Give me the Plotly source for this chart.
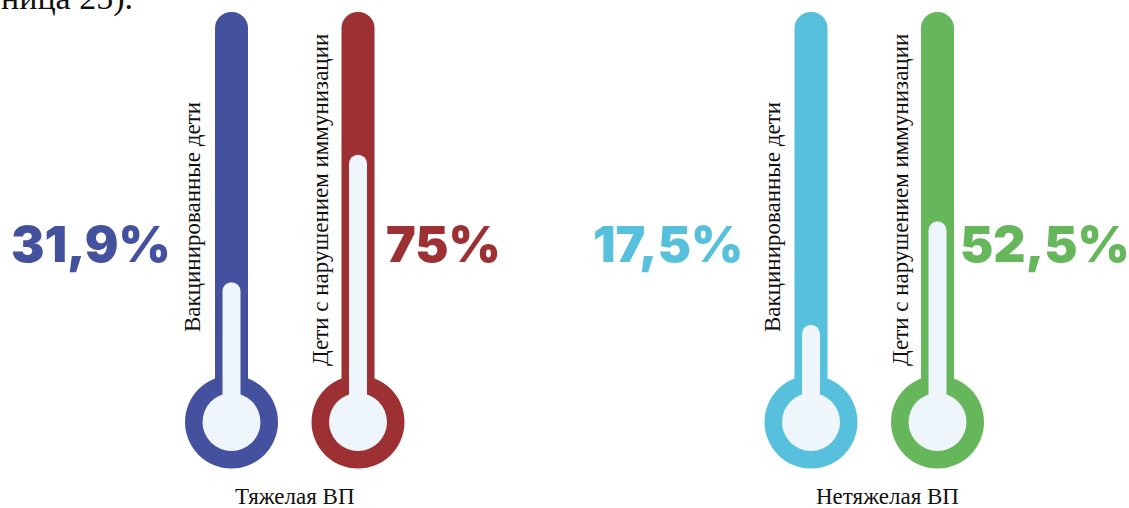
import plotly.graph_objects as go

# ---- data ----
groups = ["Тяжелая ВП", "Нетяжелая ВП"]
series_labels = ["Вакцинированные дети", "Дети с нарушением иммунизации"]
values = [31.9, 75.0, 17.5, 52.5]          # percent, order: blue, red, cyan, green
value_texts = ["31,9%", "75%", "17,5%", "52,5%"]
colors = ["#43519e", "#9d3033", "#57c1dd", "#66b65b"]
LIGHT = "#eef6fc"

# ---- layout constants (pixels) ----
W, H = 1129, 508
ZERO_PX = 376.5          # pixel row of 0 %
PX_PER_PCT = 2.957
TUBE_TOP_PX = 12
BULB_PX = 422
CX = [231.5, 358, 811, 937.5]
TEXT_CX = [91, 443.5, 668, 1045]
LABEL_X = [192, 321, 772, 901]
LABEL_Y = [217, 200, 217, 200]
GROUP_X = [295, 887]

def pct(py):
    return (ZERO_PX - py) / PX_PER_PCT

def paper_y(py):
    return 1 - py / H

tube_top = pct(TUBE_TOP_PX)
bulb = pct(BULB_PX)

fig = go.Figure()

# outer coloured tubes
for i, v in enumerate(values):
    fig.add_trace(go.Bar(x=[CX[i]], y=[tube_top - bulb], base=[bulb], width=[33],
                         marker=dict(color=colors[i], cornerradius=16.5, line=dict(width=0)),
                         hoverinfo="skip", showlegend=False))
# inner light columns (value)
for i, v in enumerate(values):
    fig.add_trace(go.Bar(x=[CX[i]], y=[v - bulb], base=[bulb], width=[18],
                         marker=dict(color=LIGHT, cornerradius=9, line=dict(width=0)),
                         hoverinfo="skip", showlegend=False))
# inner light bulbs
fig.add_trace(go.Scatter(x=CX, y=[bulb] * 4, mode="markers",
                         marker=dict(size=58, color=LIGHT, line=dict(width=0)),
                         hoverinfo="skip", showlegend=False))

shapes = []
for i in range(4):
    shapes.append(dict(type="circle", layer="below", xref="x", yref="y",
                       xsizemode="pixel", ysizemode="pixel",
                       xanchor=CX[i], yanchor=bulb,
                       x0=-46.5, x1=46.5, y0=-46.5, y1=46.5,
                       fillcolor=colors[i], line=dict(width=0)))

ann = []
for i in range(4):
    ann.append(dict(x=TEXT_CX[i], xref="x", y=paper_y(244), yref="paper",
                    text=value_texts[i], showarrow=False, xanchor="center", yanchor="middle",
                    font=dict(family="Inter", size=50, color=colors[i], weight=900)))
    ann.append(dict(x=LABEL_X[i], xref="x", y=paper_y(LABEL_Y[i]), yref="paper",
                    text=series_labels[i % 2], showarrow=False, textangle=-90,
                    xanchor="center", yanchor="middle",
                    font=dict(family="Liberation Serif", size=23, color="#111111")))
for g in range(2):
    ann.append(dict(x=GROUP_X[g], xref="x", y=paper_y(496), yref="paper",
                    text=groups[g], showarrow=False, xanchor="center", yanchor="middle",
                    font=dict(family="Liberation Serif", size=23, color="#111111")))
# clipped text from the page above
ann.append(dict(x=0, xref="paper", y=paper_y(-2), yref="paper", text="ница 25).",
                showarrow=False, xanchor="left", yanchor="middle", xshift=-1,
                font=dict(family="Liberation Serif", size=34, color="#111111")))

fig.update_layout(
    width=W, height=H, margin=dict(l=0, r=0, t=0, b=0),
    paper_bgcolor="white", plot_bgcolor="white",
    barmode="overlay",
    xaxis=dict(range=[0, W], visible=False, fixedrange=True),
    yaxis=dict(range=[pct(H), pct(0)], visible=False, fixedrange=True),
    shapes=shapes, annotations=ann, showlegend=False,
)

fig.write_html("out.html", config={"displayModeBar": False})
